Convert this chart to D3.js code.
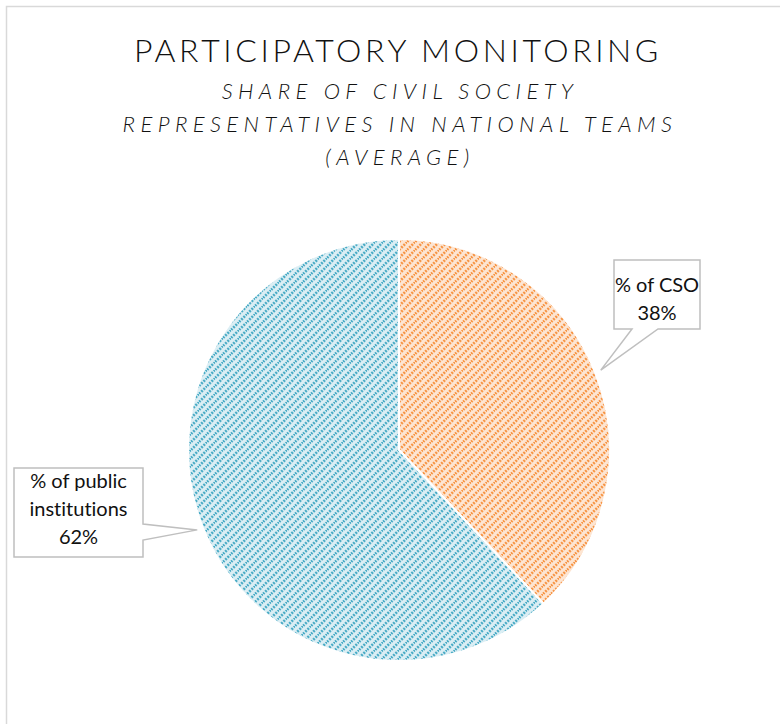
<!DOCTYPE html>
<html>
<head>
<meta charset="utf-8">
<script src="https://cdn.jsdelivr.net/npm/d3@7"></script>
<style>
  body { margin: 0; background: #fff; }
  svg { display: block; font-family: Lato, "Open Sans", sans-serif; font-variant-ligatures: none; }
</style>
</head>
<body>
<svg width="780" height="724"></svg>
<script>
const categories = ['% of CSO', '% of public institutions'];
const shares = [38, 62];
const labelLines = [['% of CSO', '38%'], ['% of public', 'institutions', '62%']];
const titleText = 'PARTICIPATORY MONITORING';
const subtitleLines = ['SHARE OF CIVIL SOCIETY', 'REPRESENTATIVES IN NATIONAL TEAMS', '(AVERAGE)'];

const svg = d3.select('svg');
const width = 780, height = 724;
const cx = 399, cy = 450, r = 211;

// chart area border
svg.append('rect')
  .attr('x', 6.5).attr('y', 6.5)
  .attr('width', width).attr('height', height)
  .attr('fill', 'none').attr('stroke', '#d9d9d9').attr('stroke-width', 1.5);

// hatch patterns
const colors = [
  { bg: '#fde5d2', fg: '#f79646' },
  { bg: '#dbeef4', fg: '#4bacc6' }
];
const defs = svg.append('defs');
colors.forEach((c, i) => {
  const p = defs.append('pattern')
    .attr('id', 'hatch' + i)
    .attr('patternUnits', 'userSpaceOnUse')
    .attr('width', 8).attr('height', 8);
  p.append('rect').attr('width', 8).attr('height', 8).attr('fill', c.bg);
  p.append('path')
    .attr('d', 'M-2,2 L2,-2 M0,8 L8,0 M6,10 L10,6')
    .attr('stroke', c.fg).attr('stroke-width', 2.6)
    .attr('stroke-dasharray', '2 1.2');
});

// title
svg.append('text')
  .attr('x', 398).attr('y', 62)
  .attr('text-anchor', 'middle')
  .attr('font-size', 32).attr('font-weight', 300).attr('letter-spacing', 3.6)
  .attr('fill', '#111')
  .text(titleText);

svg.selectAll('text.sub').data(subtitleLines).enter()
  .append('text')
  .attr('class', 'sub')
  .attr('x', 400)
  .attr('y', (d, i) => 99 + i * 33)
  .attr('text-anchor', 'middle')
  .attr('font-size', 22).attr('font-style', 'italic').attr('font-weight', 300)
  .attr('letter-spacing', 5.4)
  .attr('fill', '#111')
  .text(d => d);

// pie
const pie = d3.pie().sort(null).value(d => d)(shares);
const arc = d3.arc().innerRadius(0).outerRadius(r);
const tipArc = d3.arc().innerRadius(r + 6).outerRadius(r + 6);

const g = svg.append('g').attr('transform', `translate(${cx},${cy})`);
g.selectAll('path').data(pie).enter()
  .append('path')
  .attr('d', arc)
  .attr('fill', (d, i) => `url(#hatch${i})`)
  .attr('stroke', '#fff').attr('stroke-width', 2);

// callout boxes
const boxes = [
  { x0: 614, y0: 260, x1: 700, y1: 329, side: 'bottom', a: 632, b: 658, base: 292 },
  { x0: 14, y0: 468, x1: 143, y1: 557, side: 'right', a: 524, b: 540, base: 488 }
];

pie.forEach((d, i) => {
  const b = boxes[i];
  const c = tipArc.centroid(d);
  const tx = cx + c[0], ty = cy + c[1];
  let pts;
  if (b.side === 'bottom') {
    pts = [[b.x0, b.y0], [b.x1, b.y0], [b.x1, b.y1], [b.b, b.y1], [tx, ty], [b.a, b.y1], [b.x0, b.y1]];
  } else {
    pts = [[b.x0, b.y0], [b.x1, b.y0], [b.x1, b.a], [tx, ty], [b.x1, b.b], [b.x1, b.y1], [b.x0, b.y1]];
  }
  svg.append('path')
    .attr('d', d3.line()(pts) + 'Z')
    .attr('fill', '#fff').attr('stroke', '#bfbfbf').attr('stroke-width', 1.5);

  const lines = labelLines[i];
  svg.append('g').selectAll('text').data(lines).enter()
    .append('text')
    .attr('x', (b.x0 + b.x1) / 2)
    .attr('y', (t, j) => b.base + j * 28)
    .attr('text-anchor', 'middle')
    .attr('font-size', 20)
    .attr('fill', '#111')
    .text(t => t);
});
</script>
</body>
</html>
